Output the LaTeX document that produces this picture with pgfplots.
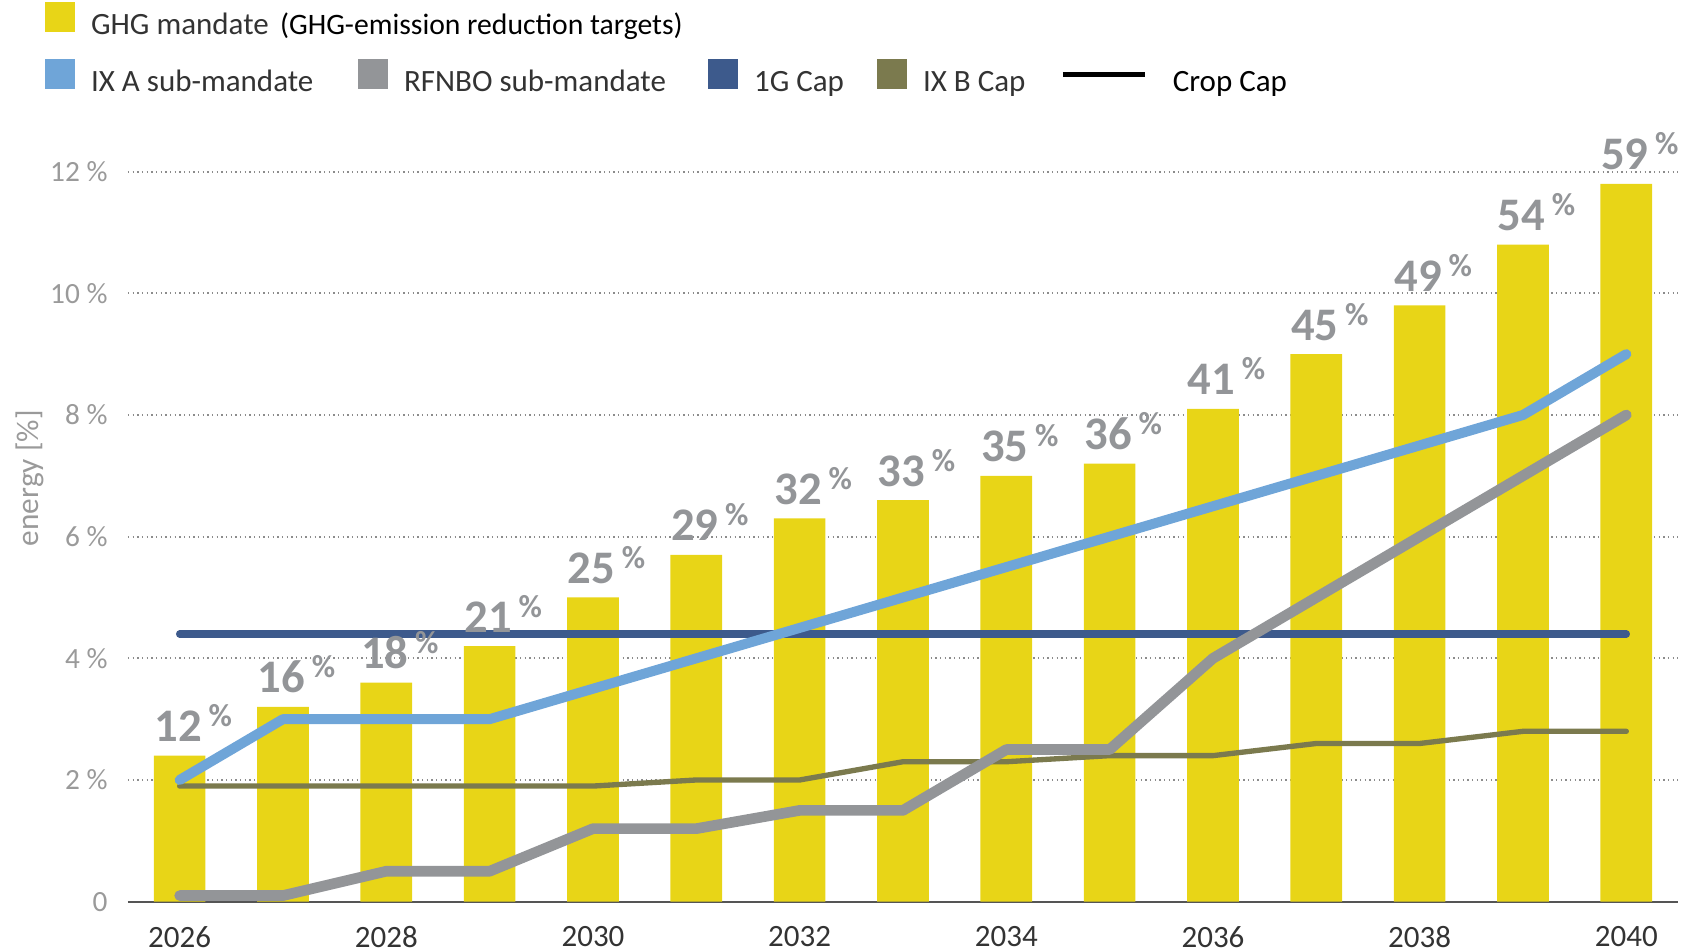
\documentclass[border=0pt]{standalone}
\usepackage{fontspec}
\setmainfont{Carlito}
\usepackage{pgfplots}
\usepackage{pgfplotstable}
\pgfplotsset{compat=1.18}
\definecolor{ghgyellow}{HTML}{E8D517}
\definecolor{ixablue}{HTML}{6FA5D8}
\definecolor{rfnbogray}{HTML}{939598}
\definecolor{gcapnavy}{HTML}{3D5A8C}
\definecolor{ixbolive}{HTML}{7B7A4E}
\definecolor{labgray}{HTML}{939598}
\definecolor{tickgray}{HTML}{9A9A9A}
\definecolor{xtickcol}{HTML}{333333}
\definecolor{legtext}{HTML}{333333}
\definecolor{axisgray}{HTML}{555555}

\pgfplotstableread{
year ghg lab
2026 2.4 12
2027 3.2 16
2028 3.6 18
2029 4.2 21
2030 5.0 25
2031 5.7 29
2032 6.3 32
2033 6.6 33
2034 7.0 35
2035 7.2 36
2036 8.1 41
2037 9.0 45
2038 9.8 49
2039 10.8 54
2040 11.8 59
}\ghgdata

\pgfplotstableread{
year ixa rfnbo gcap ixb
2026 2.0 0.1 4.4 1.9
2027 3.0 0.1 4.4 1.9
2028 3.0 0.5 4.4 1.9
2029 3.0 0.5 4.4 1.9
2030 3.5 1.2 4.4 1.9
2031 4.0 1.2 4.4 2.0
2032 4.5 1.5 4.4 2.0
2033 5.0 1.5 4.4 2.3
2034 5.5 2.5 4.4 2.3
2035 6.0 2.5 4.4 2.4
2036 6.5 4.0 4.4 2.4
2037 7.0 5.0 4.4 2.6
2038 7.5 6.0 4.4 2.6
2039 8.0 7.0 4.4 2.8
2040 9.0 8.0 4.4 2.8
}\linedata

\pgfplotsset{
  sqleg/.style={legend image code/.code={\fill[##1, draw=none] (0pt,-1.5pt) rectangle (9pt,7.5pt);}},
  lineleg/.style={legend image code/.code={\draw[##1, line width=1.5pt] (-1pt,3pt) -- (23.5pt,3pt); \path (27pt,3pt);}},
}

\begin{document}
\begin{tikzpicture}
\useasboundingbox (-38.4pt,-15.1pt) rectangle (465.9pt,270.5pt);
\begin{axis}[
  at={(0pt,0pt)}, anchor=south west,
  scale only axis, width=465pt, height=219pt,
  xmin=2025.5, xmax=2040.5, ymin=0, ymax=12,
  enlarge x limits=false,
  axis lines*=left,
  x axis line style={-, draw=axisgray, line width=0.6pt},
  y axis line style={draw=none},
  ytick={0,2,4,6,8,10,12},
  yticklabels={0,2 \%,4 \%,6 \%,8 \%,10 \%,12 \%},
  xtick={2026,2028,2030,2032,2034,2036,2038,2040},
  xticklabels={2026,2028,2030,2032,2034,2036,2038,2040},
  major tick length=0pt, tick style={draw=none},
  ymajorgrids,
  major grid style={densely dotted, color=gray!90, line width=0.55pt},
  yticklabel style={font=\fontsize{8.8}{10}\selectfont, text=tickgray, xshift=-2.6pt},
  xticklabel style={font=\fontsize{9.3}{11}\selectfont, text=xtickcol, yshift=-3.9pt},
  ylabel={energy [\%]},
  ylabel style={at={(axis description cs:-0.063,0.58)}, anchor=center, font=\fontsize{9.4}{11}\selectfont, text=tickgray},
  clip=false,
  legend cell align=left,
  legend columns=5,
  legend style={at={(axis description cs:-0.0535,1.232)}, anchor=north west,
    draw=none, fill=none, inner sep=0pt, outer sep=0pt, row sep=5.3pt,
    font=\fontsize{9.3}{11}\selectfont, text=legtext,
    nodes={inner sep=0pt, outer sep=0pt, text height=6.5pt, text depth=2pt},
    /tikz/every odd column/.append style={column sep=4.8pt},
    /tikz/every even column/.append style={column sep=0pt}},
]
\addlegendimage{sqleg, fill=ghgyellow}
\addlegendentry{\makebox[80.1pt][l]{GHG mandate\hspace{3.4pt}{\fontsize{8.9}{10}\selectfont\color{black}(GHG-emission reduction targets)}}}
\addlegendimage{empty legend}\addlegendentry{}
\addlegendimage{empty legend}\addlegendentry{}
\addlegendimage{empty legend}\addlegendentry{}
\addlegendimage{empty legend}\addlegendentry{}
\addlegendimage{sqleg, fill=ixablue}
\addlegendentry{\makebox[80.1pt][l]{IX A sub-mandate}}
\addlegendimage{sqleg, fill=rfnbogray}
\addlegendentry{\makebox[91.2pt][l]{RFNBO sub-mandate}}
\addlegendimage{sqleg, fill=gcapnavy}
\addlegendentry{\makebox[36.9pt][l]{1G Cap}}
\addlegendimage{sqleg, fill=ixbolive}
\addlegendentry{\makebox[41.2pt][l]{IX B Cap}}
\addlegendimage{lineleg, black}
\addlegendentry{\color{black}Crop Cap}

\addplot[ybar, bar width=0.5, bar shift=0pt, fill=ghgyellow, draw=none, forget plot,
  point meta=explicit symbolic,
  nodes near coords={\textbf{\pgfplotspointmeta}\hspace{2.0pt}\raisebox{4.5pt}{\fontsize{9.6}{10}\selectfont\bfseries\%}},
  every node near coord/.append style={font=\fontsize{14}{14}\selectfont\bfseries, text=labgray,
    anchor=base west, inner sep=0pt, xshift=-7.74pt, yshift=4.2pt}]
  table[x=year, y=ghg, meta=lab] {\ghgdata};
\addplot[ixbolive, line width=1.6pt, line cap=round, line join=round, forget plot]
  table[x=year, y=ixb] {\linedata};
\addplot[gcapnavy, line width=2.2pt, line cap=round, line join=round, forget plot]
  table[x=year, y=gcap] {\linedata};
\addplot[rfnbogray, line width=3.2pt, line cap=round, line join=round, forget plot]
  table[x=year, y=rfnbo] {\linedata};
\addplot[ixablue, line width=3.0pt, line cap=round, line join=round, forget plot]
  table[x=year, y=ixa] {\linedata};
\end{axis}
\end{tikzpicture}
\end{document}
